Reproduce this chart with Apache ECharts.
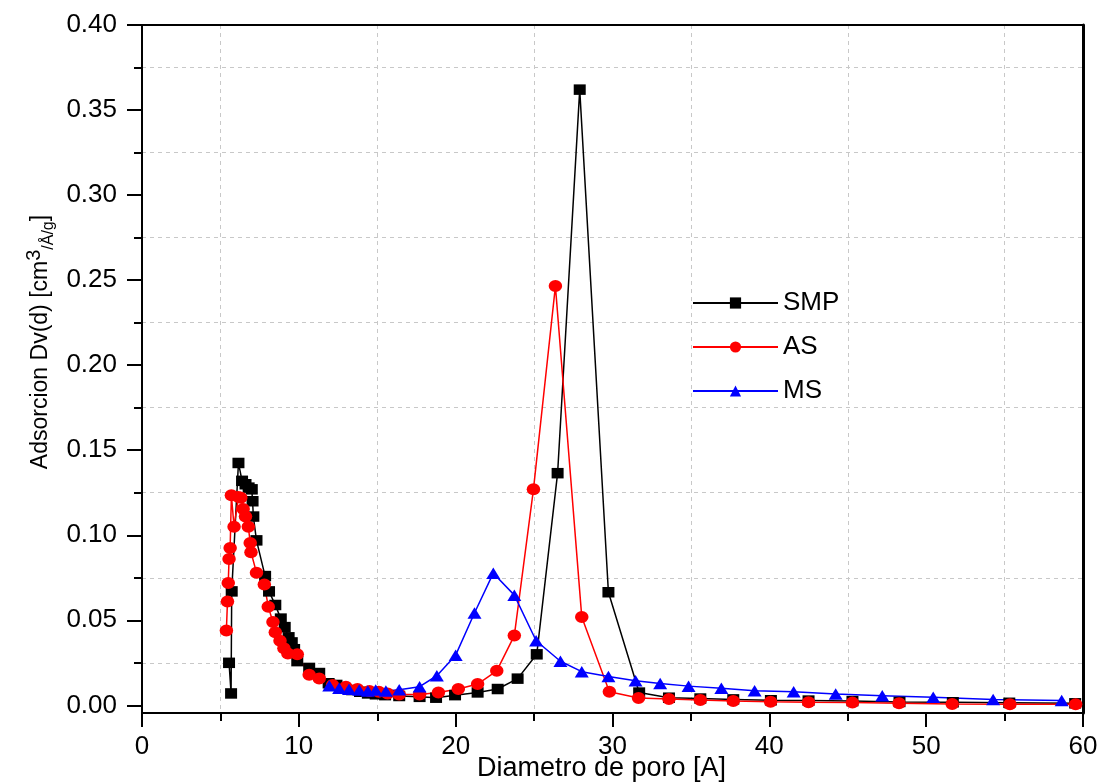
<!DOCTYPE html>
<html>
<head>
<meta charset="utf-8">
<script src="https://cdn.jsdelivr.net/npm/echarts@6/dist/echarts.min.js"></script>
<style>
html,body{margin:0;padding:0;background:#fff;}
#c{width:1102px;height:784px;}
</style>
</head>
<body>
<div id="c"></div>
<script>
// ---- data ----
const smpX = [5.55,5.68,5.72,6.15,6.38,6.6,6.8,7.0,7.05,7.1,7.3,7.85,8.1,8.5,8.85,9.1,9.35,9.55,9.7,9.9,10.66,11.3,11.9,12.4,12.9,13.4,13.9,14.4,14.9,15.5,16.4,17.7,18.75,19.96,21.4,22.68,23.95,25.17,26.5,27.91,29.74,31.7,33.6,35.6,37.7,40.1,42.5,45.3,48.3,51.7,55.3,59.5];
const smpY = [0.025,0.007,0.067,0.1425,0.132,0.130,0.128,0.127,0.120,0.111,0.097,0.076,0.067,0.059,0.051,0.046,0.040,0.037,0.033,0.026,0.022,0.019,0.013,0.012,0.010,0.009,0.008,0.007,0.0065,0.006,0.0055,0.005,0.0045,0.006,0.0076,0.0096,0.0157,0.030,0.1365,0.362,0.0665,0.0075,0.0045,0.004,0.0035,0.003,0.0028,0.0025,0.002,0.0018,0.0015,0.0012];

const asX = [5.38,5.45,5.5,5.55,5.62,5.7,5.87,6.15,6.3,6.45,6.6,6.78,6.9,6.95,7.3,7.8,8.05,8.35,8.5,8.8,9.05,9.3,9.9,10.66,11.3,12.15,13.0,13.74,14.5,15.1,15.66,16.4,17.7,18.9,20.17,21.4,22.62,23.74,24.96,26.36,28.04,29.8,31.66,33.6,35.6,37.7,40.08,42.5,45.3,48.27,51.66,55.34,59.53];
const asY = [0.044,0.061,0.072,0.086,0.0925,0.1235,0.105,0.1225,0.122,0.1155,0.111,0.105,0.0955,0.090,0.078,0.071,0.058,0.049,0.043,0.038,0.0335,0.0305,0.030,0.018,0.0158,0.012,0.011,0.0096,0.0084,0.008,0.007,0.0064,0.0064,0.0076,0.0096,0.0125,0.0203,0.041,0.127,0.2465,0.052,0.008,0.0043,0.0037,0.0031,0.0025,0.0021,0.0018,0.0016,0.0012,0.0008,0.0006,0.0006];

const msX = [11.94,12.57,13.2,13.85,14.4,14.9,15.55,16.4,17.7,18.8,20.0,21.2,22.4,23.74,25.13,26.68,28.04,29.74,31.47,33.04,34.85,36.94,39.06,41.55,44.23,47.2,50.45,54.27,58.64];
const msY = [0.0115,0.010,0.0095,0.009,0.0085,0.009,0.0085,0.0092,0.011,0.0174,0.0295,0.0543,0.0777,0.0648,0.038,0.0259,0.0198,0.017,0.0144,0.0129,0.0113,0.010,0.0086,0.008,0.0066,0.0057,0.0047,0.0035,0.0028];

const seriesNames = ['SMP','AS','MS'];
const xMajorTicks = [0,10,20,30,40,50,60];
const xMinorTicks = [5,15,25,35,45,55];
const yMajorTicks = [0,0.05,0.10,0.15,0.20,0.25,0.30,0.35,0.40];
const yMinorTicks = [0.025,0.075,0.125,0.175,0.225,0.275,0.325,0.375];

const xName = 'Diametro de poro [A]';
const yName = '{a|Adsorcion Dv(d) [cm}{s|3}{b|/Å/g}{a|]}';

// ---- chart ----
const FONT = 'Liberation Sans, Arial, sans-serif';
const zip = (xs, ys) => xs.map((x, i) => [x, ys[i]]);
const gridLine = { show: true, lineStyle: { color: '#c8c8c8', type: [4, 4], width: 1 } };
const Y_MIN = -0.0045, Y_MAX = 0.40;

const chart = echarts.init(document.getElementById('c'), null, { renderer: 'canvas' });
chart.setOption({
  animation: false,
  backgroundColor: '#ffffff',
  grid: { left: 142, right: 19, top: 25, bottom: 71, containLabel: false, outerBoundsMode: 'none' },
  legend: {
    data: seriesNames,
    orient: 'vertical',
    left: 692,
    top: 290,
    itemWidth: 85,
    itemHeight: 14,
    itemGap: 18,
    padding: 0,
    textStyle: { fontFamily: FONT, fontSize: 26, color: '#000', lineHeight: 24 }
  },
  xAxis: [
    {
      type: 'value', position: 'bottom', min: 0, max: 60,
      axisLine: { show: true, onZero: false, lineStyle: { color: '#000', width: 2 } },
      axisTick: { show: true, customValues: xMajorTicks, length: 14, lineStyle: { color: '#000', width: 2 } },
      axisLabel: { show: true, customValues: xMajorTicks, margin: 21, fontFamily: FONT, fontSize: 26, color: '#000' },
      splitLine: { show: false },
      name: xName, nameLocation: 'middle', nameGap: 42, nameMoveOverlap: false,
      nameTextStyle: { fontFamily: FONT, fontSize: 27, color: '#000', padding: [0, 22, 0, 0] }
    },
    {
      type: 'value', position: 'bottom', min: 0, max: 60,
      axisLine: { show: false, onZero: false },
      axisTick: { show: true, customValues: xMinorTicks, length: 8, lineStyle: { color: '#000', width: 2 } },
      axisLabel: { show: false },
      splitLine: gridLine
    },
    {
      type: 'value', position: 'top', min: 0, max: 60,
      axisLine: { show: true, onZero: false, lineStyle: { color: '#000', width: 2 } },
      axisTick: { show: false }, axisLabel: { show: false }, splitLine: { show: false }
    }
  ],
  yAxis: [
    {
      type: 'value', position: 'left', min: Y_MIN, max: Y_MAX,
      axisLine: { show: true, onZero: false, lineStyle: { color: '#000', width: 2 } },
      axisTick: { show: true, customValues: yMajorTicks, length: 15, lineStyle: { color: '#000', width: 2 } },
      axisLabel: { show: true, customValues: yMajorTicks, margin: 25, fontFamily: FONT, fontSize: 26, color: '#000',
                   formatter: v => Number(v).toFixed(2) },
      splitLine: { show: false },
      name: yName, nameLocation: 'middle', nameGap: 85, nameMoveOverlap: false,
      nameTextStyle: {
        fontFamily: FONT, color: '#000', padding: [0, 0, 0, 54],
        rich: {
          a: { fontFamily: FONT, fontSize: 23, lineHeight: 33, verticalAlign: 'middle', color: '#000' },
          s: { fontFamily: FONT, fontSize: 20, lineHeight: 17, verticalAlign: 'top', color: '#000' },
          b: { fontFamily: FONT, fontSize: 16, lineHeight: 26, verticalAlign: 'bottom', color: '#000' }
        }
      }
    },
    {
      type: 'value', position: 'left', min: Y_MIN, max: Y_MAX,
      axisLine: { show: false, onZero: false },
      axisTick: { show: true, customValues: yMinorTicks, length: 8, lineStyle: { color: '#000', width: 2 } },
      axisLabel: { show: false },
      splitLine: gridLine
    },
    {
      type: 'value', position: 'right', min: Y_MIN, max: Y_MAX,
      axisLine: { show: true, onZero: false, lineStyle: { color: '#000', width: 3 } },
      axisTick: { show: false }, axisLabel: { show: false }, splitLine: { show: false }
    }
  ],
  series: [
    {
      name: 'SMP', type: 'line', xAxisIndex: 0, yAxisIndex: 0,
      data: zip(smpX, smpY),
      symbol: 'rect', symbolSize: [12, 10.5],
      lineStyle: { color: '#000', width: 1.5 },
      itemStyle: { color: '#000' }
    },
    {
      name: 'AS', type: 'line', xAxisIndex: 0, yAxisIndex: 0,
      data: zip(asX, asY),
      symbol: 'circle', symbolSize: [13.5, 12],
      lineStyle: { color: '#ff0000', width: 1.5 },
      itemStyle: { color: '#ff0000' }
    },
    {
      name: 'MS', type: 'line', xAxisIndex: 0, yAxisIndex: 0,
      data: zip(msX, msY),
      symbol: 'triangle', symbolSize: [14, 11.5],
      lineStyle: { color: '#0000ff', width: 1.5 },
      itemStyle: { color: '#0000ff' }
    }
  ]
});
</script>
</body>
</html>
